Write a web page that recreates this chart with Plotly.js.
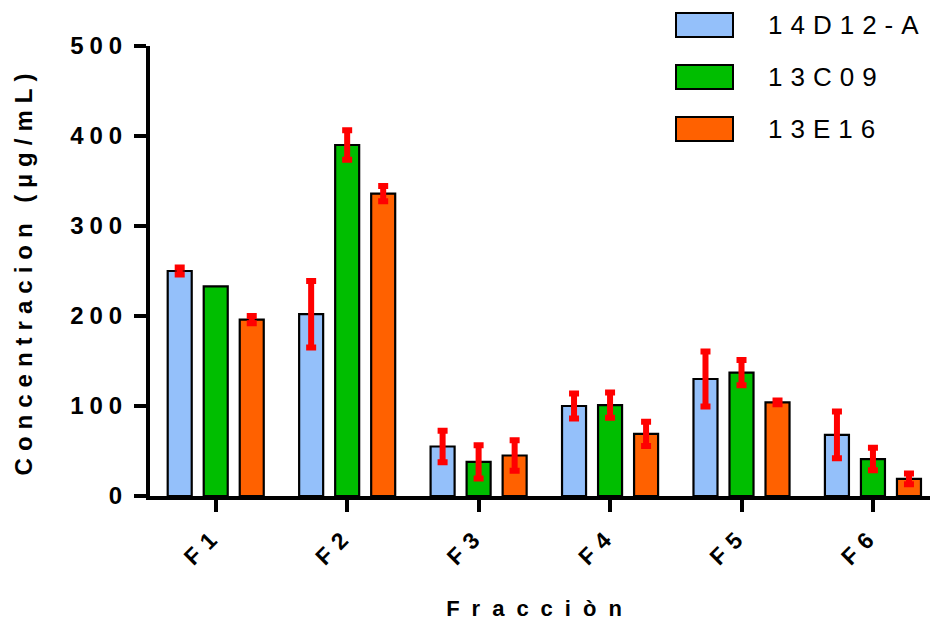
<!DOCTYPE html>
<html>
<head>
<meta charset="utf-8">
<script src="https://cdn.plot.ly/plotly-3.0.1.min.js"></script>
<style>
  html, body { margin: 0; padding: 0; background: #fff; }
  #chart { width: 930px; height: 621px; }
  /* wide letter spacing on axis text and legend labels */
  .ytick text { letter-spacing: 6px; }
  .xtick text { letter-spacing: 8px; }
  text.xtitle { letter-spacing: 12px; }
  text.ytitle { letter-spacing: 7px; }
  text.annotation-text { letter-spacing: 8px; }
</style>
</head>
<body>
<div id="chart"></div>
<script>
// Fractions on the x axis
const categories = ['F1', 'F2', 'F3', 'F4', 'F5', 'F6'];

// Series names
const seriesNames = ['14D12-A', '13C09', '13E16'];

// Mean concentration (µg/mL) per fraction
const values14D12A = [250, 202, 55, 100, 130, 68];
const values13C09  = [233, 390, 38, 101, 137, 41];
const values13E16  = [196, 336, 45, 69, 104, 19];

// Error (± value) per fraction; NaN = no error bar drawn
const errors14D12A = [4, 37, 17.5, 14, 30.5, 26];
const errors13C09  = [NaN, 16.5, 18.5, 14, 14, 12.5];
const errors13E16  = [4, 8.5, 17, 13.5, 2, 6];

// Y axis ticks
const yTickValues = [0, 100, 200, 300, 400, 500];

const seriesColors = ['#94C0FA', '#00BE00', '#FF6100'];
const seriesValues = [values14D12A, values13C09, values13E16];
const seriesErrors = [errors14D12A, errors13C09, errors13E16];

const FONT = 'Arial, "Liberation Sans", sans-serif';

const traces = seriesNames.map((name, i) => ({
  type: 'bar',
  name: name,
  x: categories,
  y: seriesValues[i],
  marker: { color: seriesColors[i], line: { color: '#000000', width: 2.2 } },
  error_y: {
    type: 'data',
    array: seriesErrors[i],
    visible: true,
    color: '#FF0000',
    thickness: 6,
    width: 5
  },
  showlegend: false
}));

// Plot area in pixels, used to place the legend boxes
const W = 930, H = 621;
const M = { l: 150, r: 0, t: 46, b: 125 };
const plotW = W - M.l - M.r, plotH = H - M.t - M.b;
const px = x => (x - M.l) / plotW;
const py = y => (H - M.b - y) / plotH;

const legendRows = [25, 77, 129];
const shapes = seriesNames.map((name, i) => ({
  type: 'rect', xref: 'paper', yref: 'paper',
  x0: px(676), x1: px(733),
  y0: py(legendRows[i] + 12), y1: py(legendRows[i] - 12),
  fillcolor: seriesColors[i],
  line: { color: '#000000', width: 2 }
}));
const annotations = seriesNames.map((name, i) => ({
  xref: 'paper', yref: 'paper',
  x: px(766), y: py(legendRows[i]),
  xanchor: 'left', yanchor: 'middle',
  text: name, showarrow: false,
  font: { family: FONT, size: 26, color: '#000000' }
}));

const layout = {
  width: W, height: H,
  margin: M,
  paper_bgcolor: '#ffffff',
  plot_bgcolor: '#ffffff',
  barmode: 'group',
  bargap: 0.178,
  bargroupgap: 0.333,
  showlegend: false,
  xaxis: {
    type: 'category',
    range: [-0.5, 5.434],
    showline: true, linecolor: '#000000', linewidth: 4,
    ticks: 'outside', ticklen: 12, tickwidth: 4, tickcolor: '#000000',
    tickangle: -45,
    tickfont: { family: FONT, size: 23, weight: 'bold', color: '#000000' },
    showgrid: false, zeroline: false,
    automargin: false,
    title: { text: 'Fracciòn', standoff: 44,
      font: { family: FONT, size: 22, weight: 'bold', color: '#000000' } }
  },
  yaxis: {
    range: [0, 500],
    tickvals: yTickValues,
    ticktext: yTickValues.map(String),
    showline: true, linecolor: '#000000', linewidth: 4,
    ticks: 'outside', ticklen: 12, tickwidth: 4, tickcolor: '#000000',
    ticklabelstandoff: 1,
    tickfont: { family: FONT, size: 24, weight: 'bold', color: '#000000' },
    showgrid: false, zeroline: false,
    automargin: false,
    title: { text: 'Concentracion (µg/mL)', standoff: 32,
      font: { family: FONT, size: 24, weight: 'bold', color: '#000000' } }
  },
  shapes: shapes,
  annotations: annotations
};

Plotly.newPlot('chart', traces, layout, { displayModeBar: false, staticPlot: true });
</script>
</body>
</html>
